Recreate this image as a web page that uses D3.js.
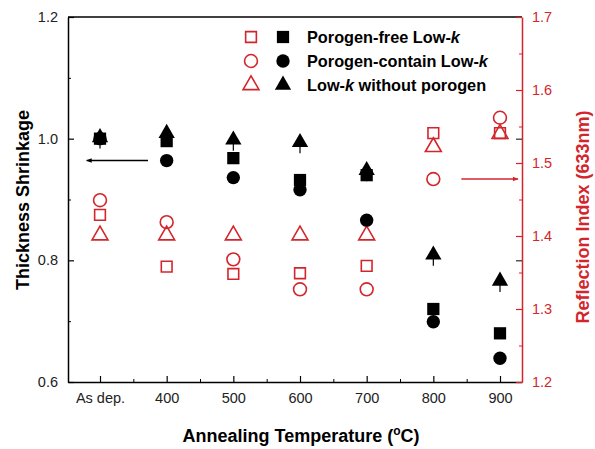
<!DOCTYPE html>
<html>
<head>
<meta charset="utf-8">
<script src="https://cdn.jsdelivr.net/npm/d3@7"></script>
<style>
  body { margin: 0; background: #fff; }
  text { font-family: "Liberation Sans", Arial, sans-serif; }
</style>
</head>
<body>
<svg width="595" height="449"></svg>
<script>
const categories = ['As dep.', '400', '500', '600', '700', '800', '900'];

// thickness shrinkage (left axis, filled)
const freeShrink    = [1.000, 0.996, 0.968, 0.932, 0.940, 0.720, 0.680];
const containShrink = [1.000, 0.964, 0.936, 0.916, 0.866, 0.699, 0.639];
const withoutShrink = [1.002, 1.009, 0.998, 0.994, 0.948, 0.809, 0.766];

// reflection index (right axis, open)
const freeRI    = [1.429, 1.358, 1.348, 1.349, 1.359, 1.541, 1.541];
const containRI = [1.449, 1.419, 1.368, 1.327, 1.327, 1.478, 1.562];
const withoutRI = [1.401, 1.401, 1.401, 1.401, 1.401, 1.522, 1.540];

const leftTicks = [0.6, 0.8, 1.0, 1.2];
const leftMinor = [0.7, 0.9, 1.1];
const rightTicks = [1.2, 1.3, 1.4, 1.5, 1.6, 1.7];
const rightMinor = [1.25, 1.35, 1.45, 1.55, 1.65];

const red = '#d3262c';
const svg = d3.select('svg');

const x = d3.scaleLinear().domain([-0.48, 6.33]).range([68, 522]);
const yL = d3.scaleLinear().domain([0.6, 1.2]).range([382, 17]);
const yR = d3.scaleLinear().domain([1.2, 1.7]).range([382, 17]);

// frame
svg.append('line').attr('x1', 68).attr('x2', 522).attr('y1', 17).attr('y2', 17)
  .attr('stroke', '#000').attr('stroke-width', 1.5);

// minor ticks
const minorX = d3.range(0, 6).map(i => i + 0.5);
svg.append('g').attr('transform', 'translate(0,382)')
  .call(d3.axisBottom(x).tickValues(minorX).tickSize(-3).tickFormat(''))
  .call(g => g.select('.domain').remove());
svg.append('g').attr('transform', 'translate(68,0)')
  .call(d3.axisLeft(yL).tickValues(leftMinor).tickSize(-3).tickFormat(''))
  .call(g => g.select('.domain').remove());
svg.append('g').attr('transform', 'translate(522,0)')
  .call(d3.axisLeft(yL).tickValues(leftTicks).tickSize(6).tickFormat(''))
  .call(g => g.select('.domain').remove());
svg.append('g').attr('transform', 'translate(522,0)')
  .call(d3.axisRight(yR).tickValues(rightMinor).tickSize(-3).tickFormat(''))
  .call(g => g.select('.domain').remove())
  .selectAll('line').attr('stroke', red);

const bottom = svg.append('g').attr('transform', 'translate(0,382)')
  .call(d3.axisBottom(x).tickValues(d3.range(categories.length)).tickSize(-6).tickPadding(11)
    .tickFormat(i => categories[i]).tickSizeOuter(0));
const left = svg.append('g').attr('transform', 'translate(68,0)')
  .call(d3.axisLeft(yL).tickValues(leftTicks).tickSize(-6).tickPadding(10)
    .tickFormat(d3.format('.1f')).tickSizeOuter(0));
const right = svg.append('g').attr('transform', 'translate(522,0)')
  .call(d3.axisRight(yR).tickValues(rightTicks).tickSize(-6).tickPadding(10)
    .tickFormat(d3.format('.1f')).tickSizeOuter(0));

[bottom, left, right].forEach(g => {
  g.select('.domain').attr('stroke-width', 1.5);
  g.selectAll('line').attr('stroke-width', 1.2);
  g.selectAll('text').attr('font-size', 14.5).attr('fill', '#222');
});
right.select('.domain').attr('stroke', red);
right.selectAll('line').attr('stroke', red);
right.selectAll('text').attr('fill', red);

// titles
svg.append('text').attr('transform', 'translate(29,200) rotate(-90)')
  .attr('text-anchor', 'middle').attr('font-size', 18).attr('font-weight', 'bold')
  .text('Thickness Shrinkage');
svg.append('text').attr('transform', 'translate(589,217) rotate(-90)')
  .attr('text-anchor', 'middle').attr('font-size', 18).attr('font-weight', 'bold')
  .attr('fill', red).text('Reflection Index (633nm)');
const xt = svg.append('text').attr('x', 301).attr('y', 442)
  .attr('text-anchor', 'middle').attr('font-size', 18).attr('font-weight', 'bold');
xt.append('tspan').text('Annealing Temperature (');
xt.append('tspan').attr('font-size', 12).attr('dy', -7).text('o');
xt.append('tspan').attr('dy', 7).text('C)');

// symbols
const sym = {
  square: d3.symbol(d3.symbolSquare, 150),
  circle: d3.symbol(d3.symbolCircle, 140),
  triangle: d3.symbol(d3.symbolTriangle, 115)
};
const osym = {
  square: d3.symbol(d3.symbolSquare, 115),
  circle: d3.symbol(d3.symbolCircle, 130),
  triangle: d3.symbol(d3.symbolTriangle, 110)
};

function openSeries(values, kind) {
  svg.append('g').selectAll('path').data(values).enter().append('path')
    .attr('transform', (d, i) => `translate(${x(i)},${yR(d)})`)
    .attr('d', osym[kind]()).attr('fill', 'none').attr('stroke', red).attr('stroke-width', 1.6);
}
function filledSeries(values, kind, err) {
  const g = svg.append('g');
  if (err) {
    g.selectAll('line').data(values).enter().append('line')
      .attr('x1', (d, i) => x(i)).attr('x2', (d, i) => x(i))
      .attr('y1', d => yL(d)).attr('y2', d => yL(d - err))
      .attr('stroke', '#000').attr('stroke-width', 1.2);
  }
  g.selectAll('path').data(values).enter().append('path')
    .attr('transform', (d, i) => `translate(${x(i)},${yL(d)})`)
    .attr('d', sym[kind]()).attr('fill', '#000');
}

openSeries(withoutRI, 'triangle');
openSeries(freeRI, 'square');
openSeries(containRI, 'circle');
filledSeries(containShrink, 'circle');
filledSeries(freeShrink, 'square');
filledSeries(withoutShrink, 'triangle', 0.018);

// arrows
svg.append('defs').call(d => {
  d.append('marker').attr('id', 'ab').attr('viewBox', '0 0 10 10').attr('refX', 9).attr('refY', 5)
    .attr('markerWidth', 5).attr('markerHeight', 4).attr('orient', 'auto')
    .append('path').attr('d', 'M0,1L10,5L0,9Z').attr('fill', '#000');
  d.append('marker').attr('id', 'ar').attr('viewBox', '0 0 10 10').attr('refX', 9).attr('refY', 5)
    .attr('markerWidth', 5).attr('markerHeight', 4).attr('orient', 'auto')
    .append('path').attr('d', 'M0,1L10,5L0,9Z').attr('fill', red);
});
svg.append('line').attr('x1', x(0.72)).attr('x2', x(-0.2)).attr('y1', yL(0.964)).attr('y2', yL(0.964))
  .attr('stroke', '#000').attr('stroke-width', 1.4).attr('marker-end', 'url(#ab)');
svg.append('line').attr('x1', x(5.42)).attr('x2', x(6.27)).attr('y1', yR(1.478)).attr('y2', yR(1.478))
  .attr('stroke', red).attr('stroke-width', 1.4).attr('marker-end', 'url(#ar)');

// legend
const legend = [
  { kind: 'square', pre: 'Porogen-free Low-', k: 'k', post: '' },
  { kind: 'circle', pre: 'Porogen-contain Low-', k: 'k', post: '' },
  { kind: 'triangle', pre: 'Low-', k: 'k', post: ' without porogen' }
];
const lg = svg.append('g').selectAll('g').data(legend).enter().append('g')
  .attr('transform', (d, i) => `translate(0,${37 + i * 24})`);
lg.append('path').attr('transform', 'translate(251,0)').attr('d', d => osym[d.kind]())
  .attr('fill', 'none').attr('stroke', red).attr('stroke-width', 1.6);
lg.append('path').attr('transform', 'translate(283,0)').attr('d', d => sym[d.kind]())
  .attr('fill', '#000');
const lt = lg.append('text').attr('x', 307).attr('y', 6)
  .attr('font-size', 16.3).attr('font-weight', 'bold');
lt.append('tspan').text(d => d.pre);
lt.append('tspan').attr('font-style', 'italic').text(d => d.k);
lt.append('tspan').text(d => d.post);
</script>
</body>
</html>
